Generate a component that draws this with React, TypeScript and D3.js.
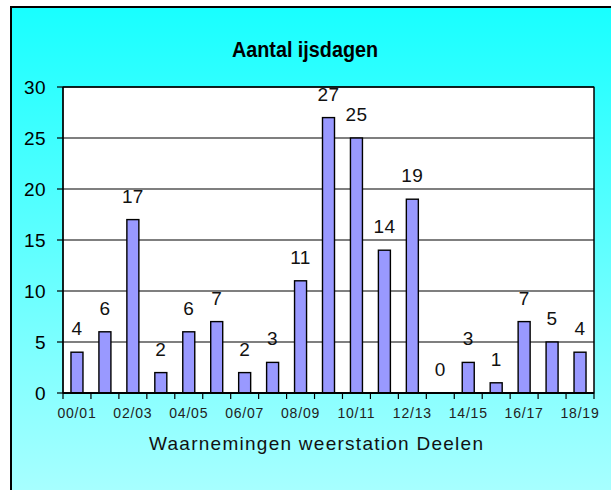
import React from "react";
import * as d3 from "d3";

const seasons = ["00/01","01/02","02/03","03/04","04/05","05/06","06/07","07/08","08/09","09/10","10/11","11/12","12/13","13/14","14/15","15/16","16/17","17/18","18/19"];
const iceDays = [4,6,17,2,6,7,2,3,11,27,25,14,19,0,3,1,7,5,4];
const yTicks = [0,5,10,15,20,25,30];
const title = "Aantal ijsdagen";
const xTitle = "Waarnemingen weerstation Deelen";

export default function App() {
  const W = 611, H = 490;
  const left = 63, right = 594, top = 87, bottom = 393;
  const x = d3.scaleBand<string>().domain(seasons).range([left, right]).paddingInner(0).paddingOuter(0);
  const y = d3.scaleLinear().domain([0, 30]).range([bottom, top]);
  const bw = 12;
  const bounds = [...seasons.map(s => x(s)!), right];
  return (
    <svg width={W} height={H} style={{ position: "absolute", left: 0, top: 0 }} fontFamily="'Liberation Sans', Arial, sans-serif">
      <defs>
        <linearGradient id="bg" x1="0" y1="0" x2="0" y2="1">
          <stop offset="0" stopColor="#18FFFF" />
          <stop offset="1" stopColor="#ACFFFF" />
        </linearGradient>
        <clipPath id="plotclip">
          <rect x={left} y={top} width={right - left} height={bottom - top + 1} />
        </clipPath>
      </defs>
      <rect x={0} y={0} width={W} height={H} fill="#fff" />
      <rect x={11} y={7} width={W + 10} height={H + 10} fill="url(#bg)" stroke="#000" strokeWidth={2} />
      <text x={305} y={57} textAnchor="middle" fontSize={22} fontWeight="bold" textLength={146} lengthAdjust="spacingAndGlyphs" fill="#000">{title}</text>
      <rect x={left} y={top} width={right - left} height={bottom - top} fill="#fff" stroke="#000" strokeWidth={1} />
      {yTicks.map(t => (
        <g key={t}>
          <line x1={left} x2={right} y1={y(t)} y2={y(t)} stroke="#000" strokeWidth={1.2} />
          <line x1={57} x2={left} y1={y(t)} y2={y(t)} stroke="#000" strokeWidth={1.2} />
          <text x={46} y={y(t) + 7} textAnchor="end" fontSize={19} letterSpacing={0.4} fill="#000">{t}</text>
        </g>
      ))}
      {seasons.map((s, i) => (
        <rect key={s} x={x(s)! + x.bandwidth() / 2 - bw / 2} y={y(iceDays[i])} width={bw} height={bottom - y(iceDays[i])} fill="#9999FF" stroke="#000" strokeWidth={1.4} />
      ))}
      <g clipPath="url(#plotclip)">
        {seasons.map((s, i) => (
          <text key={s} x={x(s)! + x.bandwidth() / 2} y={y(iceDays[i]) - 17} textAnchor="middle" fontSize={19} letterSpacing={0.4} fill="#111">{iceDays[i]}</text>
        ))}
      </g>
      <line x1={left} x2={left} y1={top} y2={bottom} stroke="#000" strokeWidth={1.5} />
      <line x1={right} x2={right} y1={top} y2={bottom} stroke="#000" strokeWidth={1} />
      <line x1={left} x2={right} y1={top} y2={top} stroke="#000" strokeWidth={1.2} />
      <line x1={left} x2={right} y1={bottom} y2={bottom} stroke="#000" strokeWidth={2} />
      {bounds.map((b, i) => (
        <line key={i} x1={b} x2={b} y1={bottom} y2={bottom + 6} stroke="#000" strokeWidth={1.2} />
      ))}
      {seasons.map((s, i) => i % 2 === 0 ? (
        <text key={s} x={x(s)! + x.bandwidth() / 2} y={418} textAnchor="middle" fontSize={14} letterSpacing={0.8} fill="#222">{s}</text>
      ) : null)}
      <text x={316} y={450} textAnchor="middle" fontSize={19} textLength={334} lengthAdjust="spacing" fill="#111">{xTitle}</text>
    </svg>
  );
}
